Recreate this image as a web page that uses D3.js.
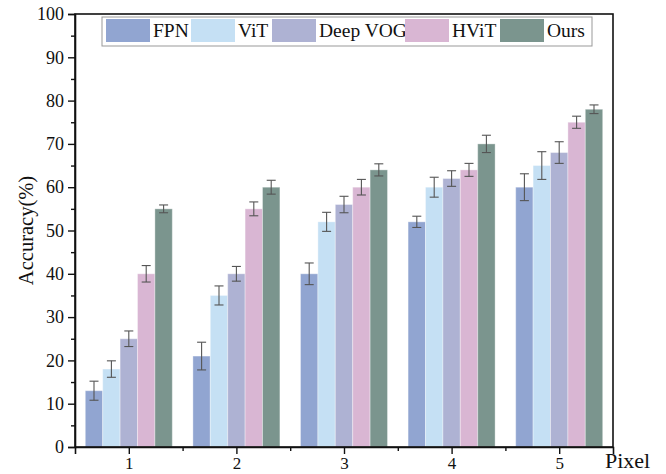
<!DOCTYPE html>
<meta charset="utf-8">
<style>
body { margin: 0; background: #fff; }
text { font-family: "Liberation Serif", "Times New Roman", serif; fill: #111; }
</style>
<svg width="666" height="474"></svg>
<script src="https://d3js.org/d3.v7.min.js"></script>
<script>
"use strict";

// data
var pixels = [1, 2, 3, 4, 5];
var methods = ["FPN", "ViT", "Deep VOG", "HViT", "Ours"];
var colors = ["#91a5d1", "#c5e0f4", "#aeb2d3", "#d9b6d3", "#7b958e"];

var fpn     = [13, 21, 40, 52, 60];
var vit     = [18, 35, 52, 60, 65];
var deepvog = [25, 40, 56, 62, 68];
var hvit    = [40, 55, 60, 64, 75];
var ours    = [55, 60, 64, 70, 78];

var fpnErr     = [2.2, 3.2, 2.5, 1.3, 3.1];
var vitErr     = [1.9, 2.2, 2.2, 2.3, 3.2];
var deepvogErr = [1.8, 1.7, 1.9, 1.8, 2.5];
var hvitErr    = [1.9, 1.6, 1.8, 1.5, 1.4];
var oursErr    = [0.9, 1.6, 1.4, 2.0, 1.0];

var yTicks = [0, 10, 20, 30, 40, 50, 60, 70, 80, 90, 100];

var values = [fpn, vit, deepvog, hvit, ours];
var errs = [fpnErr, vitErr, deepvogErr, hvitErr, oursErr];

var svg = d3.select("svg");
var pL = 75, pR = 613, pT = 14, pB = 447;

var x = d3.scaleLinear().domain([0.5, 5.5]).range([pL, pR]);
var y = d3.scaleLinear().domain([0, 100]).range([pB, pT]);
var barW = 17.4;

// bars
var bars = [];
methods.forEach(function(m, i) {
  pixels.forEach(function(p, j) {
    bars.push({m: i, p: p, v: values[i][j], e: errs[i][j]});
  });
});

var g = svg.append("g");
g.selectAll("rect.bar")
  .data(bars)
  .enter().append("rect")
    .attr("class", "bar")
    .attr("x", function(d) { return x(d.p) + (d.m - 2.5) * barW; })
    .attr("y", function(d) { return y(d.v); })
    .attr("width", barW)
    .attr("height", function(d) { return pB - y(d.v); })
    .attr("fill", function(d) { return colors[d.m]; })
    .attr("stroke", "rgba(255,255,255,0.35)")
    .attr("stroke-width", 1);

// error bars
var eb = g.selectAll("g.err")
  .data(bars)
  .enter().append("g")
    .attr("class", "err")
    .attr("stroke", "#555")
    .attr("stroke-width", 1.1);
function cx(d) { return x(d.p) + (d.m - 2) * barW; }
eb.append("line")
  .attr("x1", cx).attr("x2", cx)
  .attr("y1", function(d) { return y(d.v + d.e); })
  .attr("y2", function(d) { return y(d.v - d.e); });
eb.append("line")
  .attr("x1", function(d) { return cx(d) - 4.5; })
  .attr("x2", function(d) { return cx(d) + 4.5; })
  .attr("y1", function(d) { return y(d.v + d.e); })
  .attr("y2", function(d) { return y(d.v + d.e); });
eb.append("line")
  .attr("x1", function(d) { return cx(d) - 4.5; })
  .attr("x2", function(d) { return cx(d) + 4.5; })
  .attr("y1", function(d) { return y(d.v - d.e); })
  .attr("y2", function(d) { return y(d.v - d.e); });

// frame
svg.append("rect")
  .attr("x", pL).attr("y", pT)
  .attr("width", pR - pL).attr("height", pB - pT)
  .attr("fill", "none").attr("stroke", "#111").attr("stroke-width", 1.6);

// y axis
var yAxis = d3.axisLeft(y).tickValues(yTicks).tickSize(7).tickPadding(4);
var ya = svg.append("g").attr("transform", "translate(" + pL + ",0)").call(yAxis);
ya.select(".domain").attr("stroke-width", 1.6).attr("stroke", "#111");
ya.selectAll(".tick line").attr("stroke-width", 1.4).attr("stroke", "#111");
ya.selectAll("text").style("font-size", "18px").attr("fill", "#222");
svg.append("g").attr("transform", "translate(" + pL + ",0)")
  .call(d3.axisLeft(y).tickValues(d3.range(5, 100, 10)).tickSize(4).tickFormat(""))
  .call(function(s) { s.select(".domain").remove(); s.selectAll("line").attr("stroke-width", 1.4).attr("stroke", "#111"); });

// x axis
var xAxis = d3.axisBottom(x).tickValues(pixels).tickSize(7).tickPadding(3).tickFormat(d3.format("d"));
var xa = svg.append("g").attr("transform", "translate(0," + pB + ")").call(xAxis);
xa.select(".domain").attr("stroke-width", 1.6).attr("stroke", "#111");
xa.selectAll(".tick line").attr("stroke-width", 1.4).attr("stroke", "#111");
xa.selectAll("text").style("font-size", "17px").attr("fill", "#222");
svg.append("g").attr("transform", "translate(0," + pB + ")")
  .call(d3.axisBottom(x).tickValues([1.5, 2.5, 3.5, 4.5]).tickSize(4).tickFormat(""))
  .call(function(s) { s.select(".domain").remove(); s.selectAll("line").attr("stroke-width", 1.4).attr("stroke", "#111"); });

// axis titles
svg.append("text")
  .attr("transform", "translate(33," + ((pT + pB) / 2) + ") rotate(-90)")
  .attr("text-anchor", "middle")
  .style("font-size", "20.5px")
  .text("Accuracy(%)");
svg.append("text")
  .attr("x", 605).attr("y", 468)
  .style("font-size", "22px")
  .text("Pixel");

// legend
var lg = svg.append("g");
lg.append("rect")
  .attr("x", 102).attr("y", 17).attr("width", 490).attr("height", 29)
  .attr("fill", "#fff").attr("stroke", "#999").attr("stroke-width", 1);
var legX = [106, 191, 272, 405, 500];
var items = lg.selectAll("g.item")
  .data(methods)
  .enter().append("g")
    .attr("class", "item")
    .attr("transform", function(d, i) { return "translate(" + legX[i] + ",19)"; });
items.append("rect")
  .attr("width", 44).attr("height", 23)
  .attr("fill", function(d, i) { return colors[i]; });
items.append("text")
  .attr("x", 47).attr("y", 18)
  .style("font-size", "19.5px")
  .text(function(d) { return d; });
</script>
